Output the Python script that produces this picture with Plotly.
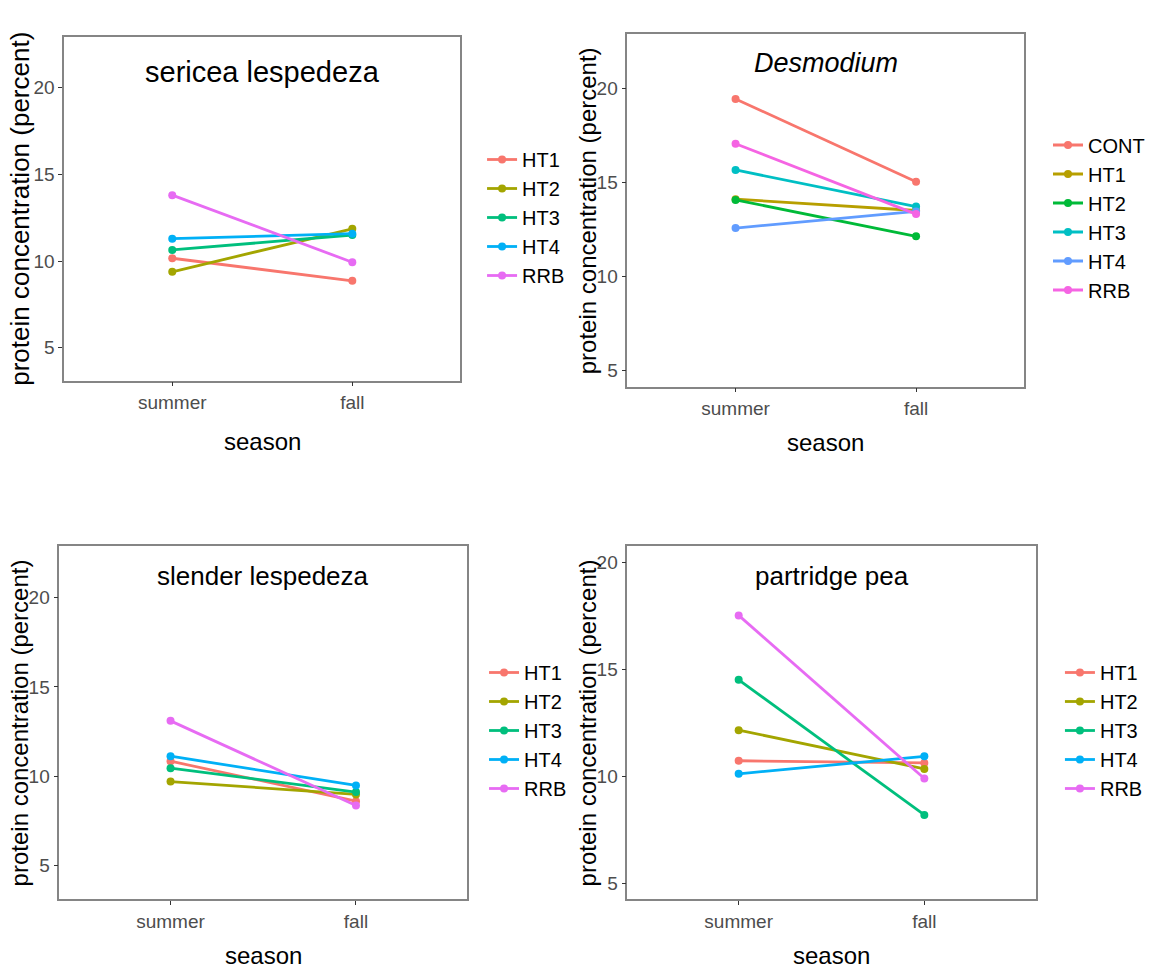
import plotly.graph_objects as go

seasons = ["summer", "fall"]

groups5 = ["HT1", "HT2", "HT3", "HT4", "RRB"]
groups6 = ["CONT", "HT1", "HT2", "HT3", "HT4", "RRB"]

sericea_summer = [10.16, 9.38, 10.64, 11.29, 13.80]
sericea_fall = [8.86, 11.86, 11.50, 11.58, 9.93]

desmodium_summer = [19.42, 14.10, 14.06, 15.65, 12.57, 17.04]
desmodium_fall = [15.03, 13.50, 12.13, 13.71, 13.45, 13.31]

slender_summer = [10.84, 9.70, 10.45, 11.12, 13.10]
slender_fall = [8.60, 8.98, 9.11, 9.48, 8.36]

partridge_summer = [10.72, 12.15, 14.50, 10.11, 17.51]
partridge_fall = [10.62, 10.34, 8.19, 10.93, 9.89]

panel_titles = ["sericea lespedeza", "<i>Desmodium</i>", "slender lespedeza", "partridge pea"]
y_ticks = [5, 10, 15, 20]

pal5 = ["#F8766D", "#A3A500", "#00BF7D", "#00B0F6", "#E76BF3"]
pal6 = ["#F8766D", "#B79F00", "#00BA38", "#00BFC4", "#619CFF", "#F564E3"]

W, H = 1150, 972
FONT = "Liberation Sans, Arial, sans-serif"

# panel boxes in pixels: left, right, top, bottom
boxes = [
    (65, 466, 37.3, 380.7),
    (635, 1037, 34.3, 386.7),
    (60, 473, 546, 899.3),
    (635, 1048.5, 546, 899.3),
]
yranges = [[3.1, 22.9], [4.15, 22.85], [3.1, 22.9], [4.25, 20.75]]

panels = [
    (groups5, pal5, sericea_summer, sericea_fall),
    (groups6, pal6, desmodium_summer, desmodium_fall),
    (groups5, pal5, slender_summer, slender_fall),
    (groups5, pal5, partridge_summer, partridge_fall),
]

fig = go.Figure()
for i, (grp, pal, s, f) in enumerate(panels):
    ax = "" if i == 0 else str(i + 1)
    leg = "legend" if i == 0 else "legend" + str(i + 1)
    for g, c, a, b in zip(grp, pal, s, f):
        fig.add_trace(go.Scatter(
            x=seasons, y=[a, b], name=g, mode="lines+markers",
            line=dict(color=c, width=2.8), marker=dict(color=c, size=8),
            xaxis="x" + ax, yaxis="y" + ax, legend=leg,
        ))

layout = dict(
    width=W, height=H, margin=dict(l=0, r=0, t=0, b=0),
    paper_bgcolor="white", plot_bgcolor="white", showlegend=True,
)
annotations = []
title_sizes = [29, 27, 26, 26]
title_y = [72, 63, 576, 576]
ytitle_sizes = [26, 24, 24, 24]
ytitle_x = [20, 595, 20, 595]
season_y = [441, 442, 955, 955]
legend_x = [488, 1061, 490, 1073]
legend_y = [217.5, 217.5, 730.5, 730.5]
for i, (l, r, t, b) in enumerate(boxes):
    ax = "" if i == 0 else str(i + 1)
    layout["xaxis" + ax] = dict(
        domain=[l / W, r / W], anchor="y" + ax, type="category",
        categoryorder="array", categoryarray=seasons, range=[-0.6, 1.6],
        showline=True, mirror=True, linecolor="#858585", linewidth=1.5,
        ticks="outside", ticklen=4, tickcolor="#333333", tickwidth=1,
        tickfont=dict(family=FONT, size=19, color="#4D4D4D"),
        showgrid=False, zeroline=False, fixedrange=True,
    )
    layout["yaxis" + ax] = dict(
        domain=[1 - b / H, 1 - t / H], anchor="x" + ax, range=yranges[i],
        tickvals=y_ticks, ticktext=[str(v) for v in y_ticks],
        showline=True, mirror=True, linecolor="#858585", linewidth=1.5,
        ticks="outside", ticklen=4, tickcolor="#333333", tickwidth=1,
        tickfont=dict(family=FONT, size=19, color="#4D4D4D"),
        showgrid=False, zeroline=False, fixedrange=True,
    )
    cx = (l + r) / 2
    annotations.append(dict(
        text=panel_titles[i], x=cx / W, y=1 - title_y[i] / H, xref="paper", yref="paper",
        xanchor="center", yanchor="middle", showarrow=False,
        font=dict(family=FONT, size=title_sizes[i], color="black"),
    ))
    annotations.append(dict(
        text="protein concentration (percent)", x=ytitle_x[i] / W, y=1 - ((t + b) / 2) / H,
        xref="paper", yref="paper", xanchor="center", yanchor="middle", textangle=-90,
        showarrow=False, font=dict(family=FONT, size=ytitle_sizes[i], color="black"),
    ))
    annotations.append(dict(
        text="season", x=cx / W, y=1 - season_y[i] / H, xref="paper", yref="paper",
        xanchor="center", yanchor="middle", showarrow=False,
        font=dict(family=FONT, size=24, color="black"),
    ))
    layout["legend" if i == 0 else "legend" + str(i + 1)] = dict(
        x=legend_x[i] / W, y=1 - legend_y[i] / H, xanchor="left", yanchor="middle",
        xref="paper", yref="paper", bgcolor="rgba(0,0,0,0)",
        font=dict(family=FONT, size=20, color="black"),
        itemwidth=30, tracegroupgap=0,
    )
layout["annotations"] = annotations
fig.update_layout(**layout)
fig.write_html("out.html")
